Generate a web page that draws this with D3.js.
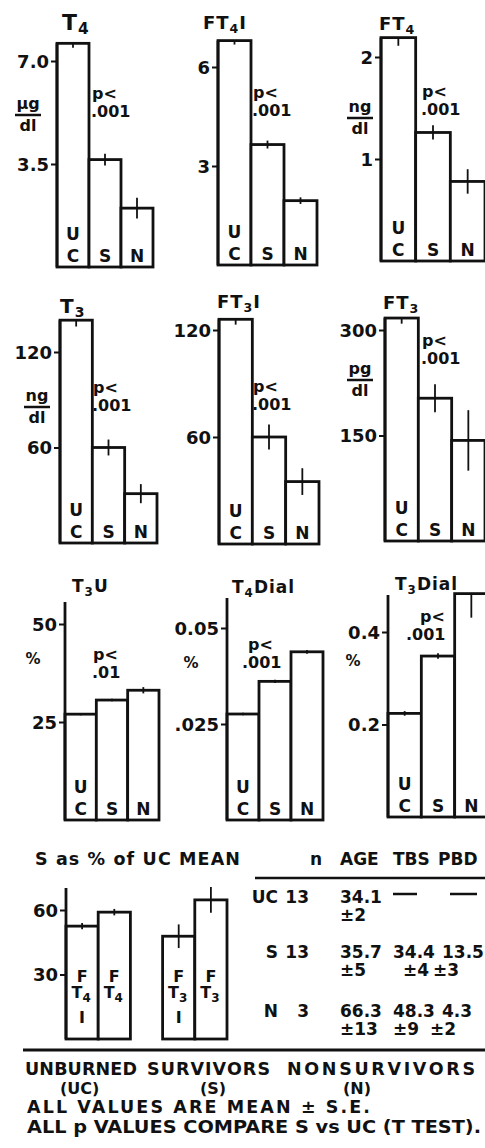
<!DOCTYPE html>
<html>
<head>
<meta charset="utf-8">
<script src="https://cdn.jsdelivr.net/npm/d3@7"></script>
<style>
  body { margin: 0; background: #fff; }
  text { font-family: "DejaVu Sans", "Liberation Sans", sans-serif; font-weight: bold; fill: #111; }
</style>
</head>
<body>
<div id="chart"></div>
<script>
// groups shown in every panel
var groups = ["UC", "S", "N"];

// means and standard errors
var t4Mean = [7.6, 3.65, 2.0],      t4Se = [0.15, 0.2, 0.35];
var ft4iMean = [6.8, 3.65, 1.95],   ft4iSe = [0.12, 0.12, 0.1];
var ft4Mean = [2.19, 1.26, 0.78],   ft4Se = [0.08, 0.07, 0.12];
var t3Mean = [140, 60, 31],         t3Se = [4, 5, 6];
var ft3iMean = [126, 60, 35],       ft3iSe = [3, 7, 7.5];
var ft3Mean = [317, 203, 143],      ft3Se = [8, 20, 43];
var t3uMean = [27, 30.6, 33.1],     t3uSe = [0.3, 0.3, 0.8];
var t4DialMean = [0.0276, 0.0361, 0.0438], t4DialSe = [0.0003, 0.0004, 0.0005];
var t3DialMean = [0.224, 0.348, 0.483],    t3DialSe = [0.005, 0.006, 0.052];

// S as % of UC mean
var pctLabels = ["FT4I", "FT4", "FT3I", "FT3"];
var pctMean = [52.5, 59, 47.8, 64.7];
var pctSe = [1.5, 1.5, 5.5, 6];
var pctTicks = [30, 60];

// table
var tableGroups = ["UC", "S", "N"];
var tableN = ["13", "13", "3"];
var ageMean = ["34.1", "35.7", "66.3"], ageSe = ["2", "5", "13"];
var tbsMean = [null, "34.4", "48.3"],   tbsSe = [null, "4", "9"];
var pbdMean = [null, "13.5", "4.3"],    pbdSe = [null, "3", "2"];

var width = 485, height = 1148;

var svg = d3.select("#chart").append("svg")
    .attr("width", width)
    .attr("height", height);

// panel layout (positions only)
var panels = [
  {mean: t4Mean, se: t4Se, ticks: [3.5, 7], labels: ["3.5", "7.0"], x: [57, 153], y0: 267, yt: 61,
   title: [["T", 0], ["4", 1]], tx: 62, ty: 30, tsize: 22, unit: ["\u03bcg", "dl"], ux: 28, uy: 109,
   p: ["p<", ".001"], px: 92, py: 99, oneSided: [0]},
  {mean: ft4iMean, se: ft4iSe, ticks: [3, 6], labels: ["3", "6"], x: [218, 317], y0: 265, yt: 67,
   title: [["FT", 0], ["4", 1], ["I", 0]], tx: 203, ty: 29, tsize: 18, unit: null,
   p: ["p<", ".001"], px: 253, py: 98, oneSided: [0]},
  {mean: ft4Mean, se: ft4Se, ticks: [1, 2], labels: ["1", "2"], x: [381, 485], y0: 261, yt: 57,
   title: [["FT", 0], ["4", 1]], tx: 379, ty: 30, tsize: 18, unit: ["ng", "dl"], ux: 360, uy: 112,
   p: ["p<", ".001"], px: 422, py: 97, oneSided: [0]},
  {mean: t3Mean, se: t3Se, ticks: [60, 120], labels: ["60", "120"], x: [60, 157], y0: 543, yt: 352,
   title: [["T", 0], ["3", 1]], tx: 60, ty: 313, tsize: 20, unit: ["ng", "dl"], ux: 37, uy: 401,
   p: ["p<", ".001"], px: 93, py: 393, oneSided: [0]},
  {mean: ft3iMean, se: ft3iSe, ticks: [60, 120], labels: ["60", "120"], x: [219, 319], y0: 544, yt: 330,
   title: [["FT", 0], ["3", 1], ["I", 0]], tx: 217, ty: 308, tsize: 18, unit: null,
   p: ["p<", ".001"], px: 253, py: 392, oneSided: [0]},
  {mean: ft3Mean, se: ft3Se, ticks: [150, 300], labels: ["150", "300"], x: [385, 485], y0: 541, yt: 330,
   title: [["FT", 0], ["3", 1]], tx: 383, ty: 309, tsize: 18, unit: ["pg", "dl"], ux: 360, uy: 374,
   p: ["p<", ".001"], px: 422, py: 346, oneSided: [0]},
  {mean: t3uMean, se: t3uSe, ticks: [25, 50], labels: ["25", "50"], x: [65, 159], y0: 820, yt: 624,
   title: [["T", 0], ["3", 1], ["U", 0]], tx: 72, ty: 592, tsize: 17, unit: ["%"], ux: 33, uy: 664,
   p: ["p<", ".01"], px: 93, py: 660, p2x: 92, axisTop: 602, oneSided: []},
  {mean: t4DialMean, se: t4DialSe, ticks: [0.025, 0.05], labels: [".025", "0.05"], x: [227, 323], y0: 820, yt: 628,
   title: [["T", 0], ["4", 1], ["Dial", 0]], tx: 232, ty: 593, tsize: 17, unit: ["%"], ux: 191, uy: 668,
   p: ["p<", ".001"], px: 248, py: 650, p2x: 242, axisTop: 598, oneSided: []},
  {mean: t3DialMean, se: t3DialSe, ticks: [0.2, 0.4], labels: ["0.2", "0.4"], x: [388, 488], y0: 817, yt: 632,
   title: [["T", 0], ["3", 1], ["Dial", 0]], tx: 395, ty: 590, tsize: 17, unit: ["%"], ux: 353, uy: 666,
   p: ["p<", ".001"], px: 420, py: 622, p2x: 406, axisTop: 595, oneSided: [2]}
];

var stroke = "#111";

panels.forEach(function(p){
  var x = d3.scaleBand().domain(groups).range(p.x).padding(0);
  var y = d3.scaleLinear().domain([0, p.ticks[1]]).range([p.y0, p.yt]);
  var g = svg.append("g");
  var data = groups.map(function(k, i){ return {g: k, m: p.mean[i], s: p.se[i], i: i}; });

  // bars
  g.selectAll("rect").data(data).join("rect")
    .attr("x", d => x(d.g))
    .attr("y", d => y(d.m))
    .attr("width", x.bandwidth())
    .attr("height", d => y(0) - y(d.m))
    .attr("fill", "#fff")
    .attr("stroke", stroke)
    .attr("stroke-width", 2.8);

  // error bars
  g.selectAll("line.err").data(data).join("line")
    .attr("class", "err")
    .attr("x1", d => x(d.g) + x.bandwidth() / 2)
    .attr("x2", d => x(d.g) + x.bandwidth() / 2)
    .attr("y1", d => p.oneSided.indexOf(d.i) >= 0 ? y(d.m) : y(d.m + d.s))
    .attr("y2", d => y(d.m - d.s))
    .attr("stroke", stroke)
    .attr("stroke-width", 1.8);

  // axis
  var axisTop = p.axisTop || y(p.mean[0]);
  g.append("line")
    .attr("x1", p.x[0]).attr("x2", p.x[0])
    .attr("y1", y(0)).attr("y2", axisTop)
    .attr("stroke", stroke).attr("stroke-width", 2.8);
  var ax = g.append("g")
    .attr("transform", "translate(" + p.x[0] + ",0)")
    .call(d3.axisLeft(y).tickValues(p.ticks).tickFormat((d, i) => p.labels[i]).tickSize(6).tickPadding(2));
  ax.select(".domain").remove();
  ax.selectAll("line").attr("stroke", stroke).attr("stroke-width", 2);
  ax.selectAll("text").attr("font-size", 18).attr("fill", "#111").attr("dy", "0.36em")
    .attr("font-family", "DejaVu Sans").attr("font-weight", "bold");

  // bar letters
  g.append("text").attr("x", x("UC") + x.bandwidth() / 2).attr("y", p.y0 - 27)
    .attr("text-anchor", "middle").attr("font-size", 17).text("U");
  groups.forEach(function(k){
    g.append("text").attr("x", x(k) + x.bandwidth() / 2).attr("y", p.y0 - 5)
      .attr("text-anchor", "middle").attr("font-size", 17).text(k === "UC" ? "C" : k);
  });

  // title
  var t = g.append("text").attr("x", p.tx).attr("y", p.ty).attr("font-size", p.tsize).attr("letter-spacing", 1);
  p.title.forEach(function(part, k){
    var ts = t.append("tspan").text(part[0]);
    if (part[1]) ts.attr("font-size", p.tsize * 0.7).attr("dy", 4);
    else if (k > 0) ts.attr("dy", -4);
  });

  // units
  if (p.unit && p.unit.length === 2) {
    g.append("text").attr("x", p.ux).attr("y", p.uy).attr("text-anchor", "middle")
      .attr("font-size", 16).text(p.unit[0]);
    g.append("line").attr("x1", p.ux - 13).attr("x2", p.ux + 13)
      .attr("y1", p.uy + 6).attr("y2", p.uy + 6).attr("stroke", stroke).attr("stroke-width", 2.5);
    g.append("text").attr("x", p.ux).attr("y", p.uy + 22).attr("text-anchor", "middle")
      .attr("font-size", 16).text(p.unit[1]);
  } else if (p.unit) {
    g.append("text").attr("x", p.ux).attr("y", p.uy).attr("text-anchor", "middle")
      .attr("font-size", 15).text(p.unit[0]);
  }

  // p value
  g.append("text").attr("x", p.px).attr("y", p.py).attr("font-size", 16).text(p.p[0]);
  g.append("text").attr("x", p.p2x || p.px - 1).attr("y", p.py + 18).attr("font-size", 16).text(p.p[1]);
});

// ---- S as % of UC mean ----
var pg = svg.append("g");
pg.append("text").attr("x", 35).attr("y", 865).attr("font-size", 17.5)
  .attr("textLength", 205).attr("lengthAdjust", "spacing").text("S as % of UC MEAN");

var slot = d3.scaleBand().domain([0, 1, 2, 3, 4]).range([66, 227]).padding(0);
var py = d3.scaleLinear().domain([0, 60]).range([1039, 910]);
var pdata = pctLabels.map(function(l, i){ return {l: l, m: pctMean[i], s: pctSe[i], slot: i < 2 ? i : i + 1}; });

pg.selectAll("rect").data(pdata).join("rect")
  .attr("x", d => slot(d.slot))
  .attr("y", d => py(d.m))
  .attr("width", slot.bandwidth())
  .attr("height", d => py(0) - py(d.m))
  .attr("fill", "#fff").attr("stroke", stroke).attr("stroke-width", 2.8);
pg.selectAll("line.err").data(pdata).join("line")
  .attr("class", "err")
  .attr("x1", d => slot(d.slot) + slot.bandwidth() / 2)
  .attr("x2", d => slot(d.slot) + slot.bandwidth() / 2)
  .attr("y1", d => py(d.m + d.s)).attr("y2", d => py(d.m - d.s))
  .attr("stroke", stroke).attr("stroke-width", 1.8);
pg.append("line").attr("x1", 66).attr("x2", 66).attr("y1", py(0)).attr("y2", 888)
  .attr("stroke", stroke).attr("stroke-width", 2.8);
var pax = pg.append("g").attr("transform", "translate(66,0)")
  .call(d3.axisLeft(py).tickValues(pctTicks).tickSize(6).tickPadding(2));
pax.select(".domain").remove();
pax.selectAll("line").attr("stroke", stroke).attr("stroke-width", 2);
pax.selectAll("text").attr("font-size", 18).attr("fill", "#111").attr("dy", "0.36em")
  .attr("font-family", "DejaVu Sans").attr("font-weight", "bold");

// letters stacked inside the bars
pdata.forEach(function(d){
  var cx = slot(d.slot) + slot.bandwidth() / 2;
  var sub = d.l.charAt(2);
  pg.append("text").attr("x", cx).attr("y", 982).attr("text-anchor", "middle").attr("font-size", 16).text("F");
  var t = pg.append("text").attr("x", cx - 1).attr("y", 998).attr("text-anchor", "middle").attr("font-size", 16);
  t.append("tspan").text("T");
  t.append("tspan").attr("font-size", 12).attr("dy", 4).text(sub);
  if (d.l.charAt(3) === "I")
    pg.append("text").attr("x", cx).attr("y", 1023).attr("text-anchor", "middle").attr("font-size", 16).text("I");
});

// ---- table ----
var tg = svg.append("g");
var cols = [{n: "n", x: 322, anchor: "end"}, {n: "AGE", x: 340}, {n: "TBS", x: 393}, {n: "PBD", x: 438}];
cols.forEach(function(c){
  tg.append("text").attr("x", c.x).attr("y", 865).attr("font-size", 17)
    .attr("text-anchor", c.anchor || "start").text(c.n);
});
tg.append("line").attr("x1", 255).attr("x2", 485).attr("y1", 878).attr("y2", 878)
  .attr("stroke", stroke).attr("stroke-width", 2.5);

var rowY = [903, 958, 1017];
tableGroups.forEach(function(gr, i){
  var yy = rowY[i];
  tg.append("text").attr("x", 278).attr("y", yy).attr("text-anchor", "end").attr("font-size", 17).text(gr);
  tg.append("text").attr("x", 309).attr("y", yy).attr("text-anchor", "end").attr("font-size", 17).text(tableN[i]);
  var cells = [[ageMean[i], ageSe[i], 340, 340], [tbsMean[i], tbsSe[i], 393, 403], [pbdMean[i], pbdSe[i], 442, 433]];
  cells.forEach(function(c, j){
    if (c[0] === null) {
      tg.append("line").attr("x1", j === 1 ? 393 : 450).attr("x2", j === 1 ? 417 : 477)
        .attr("y1", yy - 9).attr("y2", yy - 9).attr("stroke", stroke).attr("stroke-width", 2.5);
      return;
    }
    tg.append("text").attr("x", c[2]).attr("y", yy).attr("font-size", 17).text(c[0]);
    var sx = (i === 2 && j === 1) ? 393 : (i === 2 && j === 2 ? 430 : c[3]);
    tg.append("text").attr("x", sx).attr("y", yy + 18).attr("font-size", 17)
      .text("\u00b1" + c[1]);
  });
});

// ---- footer ----
var fg = svg.append("g");
fg.append("line").attr("x1", 23).attr("x2", 485).attr("y1", 1050).attr("y2", 1050)
  .attr("stroke", stroke).attr("stroke-width", 3);
var legendNames = ["UNBURNED", "SURVIVORS", "NONSURVIVORS"];
var legendX = [25, 147, 287], legendW = [112, 123, 188];
var legendAbbr = ["(UC)", "(S)", "(N)"], abbrX = [60, 200, 343];
legendNames.forEach(function(n, i){
  fg.append("text").attr("x", legendX[i]).attr("y", 1075).attr("font-size", 17.5)
    .attr("textLength", legendW[i]).attr("lengthAdjust", "spacing").text(n);
  fg.append("text").attr("x", abbrX[i]).attr("y", 1094).attr("font-size", 16).text(legendAbbr[i]);
});
fg.append("text").attr("x", 27).attr("y", 1113).attr("font-size", 17.5)
  .attr("textLength", 343).attr("lengthAdjust", "spacing").text("ALL VALUES ARE MEAN \u00b1 S.E.");
fg.append("text").attr("x", 27).attr("y", 1133).attr("font-size", 17.5)
  .attr("textLength", 454).attr("lengthAdjust", "spacingAndGlyphs").text("ALL p VALUES COMPARE S vs UC (T TEST).");
</script>
</body>
</html>
